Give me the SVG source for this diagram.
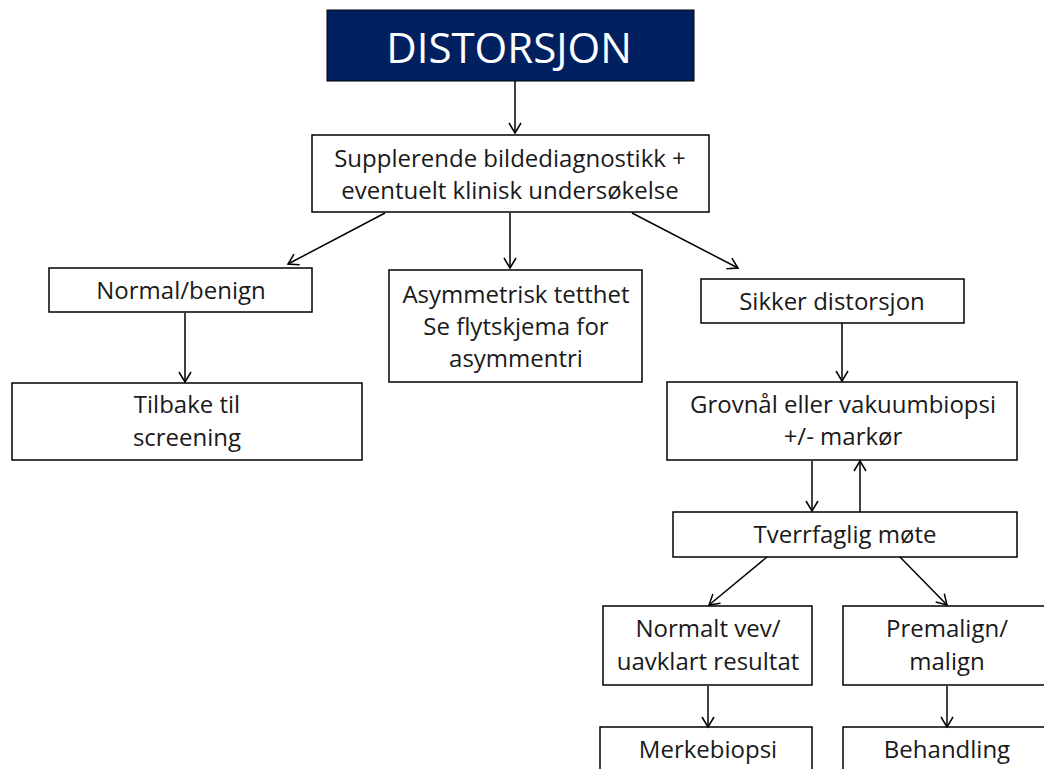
<svg xmlns="http://www.w3.org/2000/svg" width="1044" height="769" viewBox="0 0 1044 769">
<style>
  .box { fill: #ffffff; stroke: #000000; stroke-width: 1.5; }
  .t { font-family: "Open Sans", "Liberation Sans", sans-serif; font-size: 24px; fill: #1a1a1a; text-anchor: middle; }
  .title { font-family: "Open Sans", "Liberation Sans", sans-serif; font-size: 42px; fill: #ffffff; text-anchor: middle; }
  .c { stroke: #000000; stroke-width: 1.5; fill: none; marker-end: url(#arr); }
</style>
<defs>
  <marker id="arr" markerUnits="userSpaceOnUse" markerWidth="16" markerHeight="16" refX="11" refY="7" orient="auto" viewBox="0 0 16 14">
    <path d="M1,1 L11,7 L1,13" fill="none" stroke="#000" stroke-width="1.5"/>
  </marker>
</defs>
<rect width="1044" height="769" fill="#ffffff"/>
<g id="n-distorsjon">
  <rect x="327" y="10" width="367" height="71" fill="#002060" stroke="#000" stroke-width="1"/>
  <text class="title" x="509" y="63">DISTORSJON</text>
</g>
<g id="n-supplerende">
  <rect class="box" x="312" y="135" width="397" height="77"/>
  <text class="t" x="510" y="167">Supplerende bildediagnostikk +</text>
  <text class="t" x="510" y="199">eventuelt klinisk undersøkelse</text>
</g>
<g id="n-normal">
  <rect class="box" x="49" y="268" width="263" height="44"/>
  <text class="t" x="181" y="299">Normal/benign</text>
</g>
<g id="n-tilbake">
  <rect class="box" x="12" y="383" width="350" height="77"/>
  <text class="t" x="187" y="413">Tilbake til</text>
  <text class="t" x="187" y="446">screening</text>
</g>
<g id="n-asym">
  <rect class="box" x="389" y="270" width="253" height="112"/>
  <text class="t" x="516" y="303">Asymmetrisk tetthet</text>
  <text class="t" x="516" y="335">Se flytskjema for</text>
  <text class="t" x="516" y="367">asymmentri</text>
</g>
<g id="n-sikker">
  <rect class="box" x="701" y="279" width="263" height="44"/>
  <text class="t" x="832" y="310">Sikker distorsjon</text>
</g>
<g id="n-grovnal">
  <rect class="box" x="667" y="382" width="350" height="78"/>
  <text class="t" x="843" y="413">Grovnål eller vakuumbiopsi</text>
  <text class="t" x="843" y="445">+/- markør</text>
</g>
<g id="n-tverrfaglig">
  <rect class="box" x="673" y="512" width="344" height="45"/>
  <text class="t" x="845" y="543">Tverrfaglig møte</text>
</g>
<g id="n-normalt">
  <rect class="box" x="603" y="606" width="209" height="79"/>
  <text class="t" x="708" y="637">Normalt vev/</text>
  <text class="t" x="708" y="670">uavklart resultat</text>
</g>
<g id="n-premalign">
  <rect class="box" x="843" y="606" width="210" height="79"/>
  <text class="t" x="947" y="637">Premalign/</text>
  <text class="t" x="947" y="670">malign</text>
</g>
<g id="n-merkebiopsi">
  <rect class="box" x="600" y="727" width="212" height="60"/>
  <text class="t" x="708" y="758">Merkebiopsi</text>
</g>
<g id="n-behandling">
  <rect class="box" x="843" y="727" width="210" height="60"/>
  <text class="t" x="947" y="758">Behandling</text>
</g>
<g id="connectors">
  <line class="c" x1="515" y1="81" x2="515" y2="133"/>
  <line class="c" x1="385" y1="213" x2="288" y2="264"/>
  <line class="c" x1="510" y1="213" x2="510" y2="268"/>
  <line class="c" x1="632" y1="213" x2="738" y2="268"/>
  <line class="c" x1="185" y1="313" x2="185" y2="382"/>
  <line class="c" x1="842" y1="323" x2="842" y2="381"/>
  <line class="c" x1="812" y1="461" x2="812" y2="511"/>
  <line class="c" x1="860" y1="512" x2="860" y2="461"/>
  <line class="c" x1="767" y1="557" x2="709" y2="605"/>
  <line class="c" x1="900" y1="557" x2="947" y2="605"/>
  <line class="c" x1="708" y1="686" x2="708" y2="727"/>
  <line class="c" x1="947" y1="686" x2="947" y2="727"/>
</g>
</svg>
